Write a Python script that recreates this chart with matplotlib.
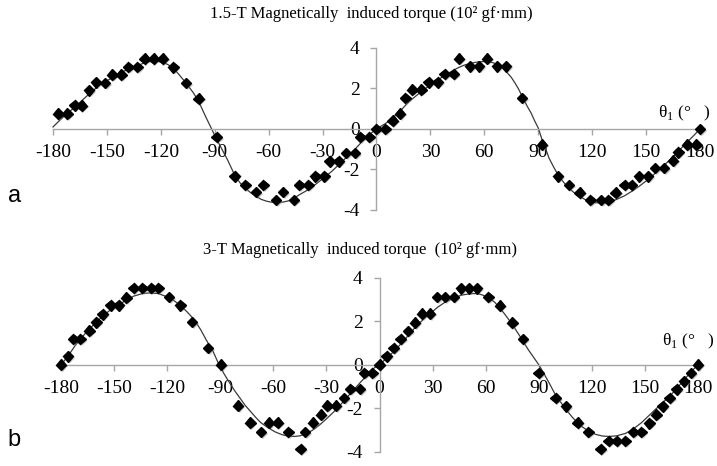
import matplotlib
matplotlib.use("Agg")
import matplotlib.pyplot as plt
import matplotlib.patheffects as pe
import numpy as np

# ---------------- data ----------------
# (a) 1.5-T measured points
a_x = [-177, -172, -168, -164, -160, -156, -151, -147, -142, -138, -133, -129, -124, -119,
       -113, -106, -99, -89, -79, -73, -67, -63, -56, -52, -46, -43, -38, -34, -29, -26,
       -21, -17, -12, -9, -4, 0, 5, 9, 13, 16, 20, 25, 29, 34, 38, 43, 46, 52, 57, 61.5,
       67, 72, 81, 92, 101, 107, 113, 119, 125, 129, 133, 138, 142, 146, 151, 155, 160,
       165, 168, 173, 178, 180]
a_y = [0.76, 0.76, 1.17, 1.15, 1.91, 2.30, 2.27, 2.68, 2.68, 3.06, 3.06, 3.47, 3.47, 3.47,
       3.05, 2.27, 1.50, -0.40, -2.34, -2.76, -3.12, -2.76, -3.50, -3.12, -3.50, -2.76, -2.76,
       -2.34, -2.34, -1.60, -1.60, -1.19, -1.19, -0.40, -0.40, 0.0, 0.0, 0.41, 0.76, 1.53,
       1.95, 1.95, 2.31, 2.31, 2.72, 2.72, 3.48, 3.10, 3.10, 3.48, 3.10, 3.10, 1.53, -0.77,
       -2.34, -2.76, -3.14, -3.51, -3.51, -3.51, -3.14, -2.76, -2.76, -2.34, -2.34, -1.93,
       -1.93, -1.57, -1.16, -0.77, -0.77, 0.0]
# (a) fitted curve
a_fit_x = [-180, -176, -172, -168, -164, -160, -155, -151, -146, -142, -137, -133, -129, -126,
           -123, -119, -116, -113, -110, -106, -102, -99, -95, -92, -89, -86, -83, -79, -76,
           -73, -70, -67, -64, -61, -58, -56, -52, -49, -46, -42, -38, -34, -29, -25, -21,
           -17, -12, -8, -4, 0, 5, 9, 13, 17, 20, 25, 29, 34, 38, 42, 46, 49, 52, 55, 57,
           60, 62, 65, 67, 70, 72, 75, 77, 79, 81, 84, 86, 88, 90, 92, 94, 96, 99, 101, 104,
           107, 110, 113, 116, 119, 122, 125, 129, 133, 138, 142, 146, 151, 156, 160, 165,
           169, 173, 177, 180]
a_fit_y = [0.10, 0.45, 0.78, 1.06, 1.40, 1.72, 2.10, 2.32, 2.60, 2.79, 3.00, 3.13, 3.27, 3.33,
           3.35, 3.30, 3.18, 3.00, 2.70, 2.27, 1.80, 1.37, 0.60, 0.05, -0.50, -1.00, -1.50,
           -2.26, -2.65, -2.92, -3.15, -3.33, -3.48, -3.57, -3.62, -3.63, -3.61, -3.55, -3.42,
           -3.20, -3.00, -2.74, -2.39, -2.10, -1.77, -1.42, -1.00, -0.62, -0.28, 0.0, 0.27,
           0.55, 0.87, 1.25, 1.49, 1.85, 2.11, 2.42, 2.64, 2.86, 3.05, 3.16, 3.23, 3.29, 3.32,
           3.33, 3.32, 3.27, 3.18, 3.02, 2.85, 2.55, 2.28, 1.98, 1.62, 1.10, 0.79, 0.40, 0.05,
           -0.50, -0.95, -1.44, -1.95, -2.26, -2.62, -2.92, -3.15, -3.33, -3.48, -3.58, -3.64,
           -3.66, -3.63, -3.50, -3.30, -3.08, -2.84, -2.50, -2.12, -1.80, -1.36, -1.00, -0.64,
           -0.28, 0.0]

# (b) 3-T measured points
b_x = [-180, -176, -173, -169, -164, -160, -156.5, -152, -147.5, -143, -139, -134, -129, -125,
       -119, -112.5, -106, -97, -89.5, -80, -73, -67, -62.5, -57.5, -51.5, -44.5, -42, -37.5,
       -33, -29.5, -24.5, -20, -16.5, -11, -8.5, -4, 0, 4, 8, 12, 16, 20, 24, 28.5, 32.5, 37,
       42, 46, 50.5, 55, 61.5, 68, 75, 81, 90, 99.5, 105.5, 112, 118, 125, 129.5, 134, 139,
       143.5, 148, 152.5, 156.5, 160, 164, 168, 172, 176, 180]
b_y = [0.0, 0.39, 1.18, 1.18, 1.56, 1.94, 2.32, 2.73, 2.73, 3.08, 3.53, 3.53, 3.53, 3.53,
       3.11, 2.73, 1.97, 0.77, 0.0, -1.89, -2.67, -3.09, -2.67, -2.67, -3.09, -3.88, -3.09,
       -2.67, -2.29, -1.89, -1.89, -1.54, -1.12, -1.12, -0.38, -0.38, 0.0, 0.39, 0.77, 1.18,
       1.55, 1.93, 2.34, 2.34, 3.11, 3.11, 3.11, 3.51, 3.51, 3.51, 3.11, 2.71, 1.93, 1.18,
       -0.38, -1.54, -1.92, -2.67, -3.09, -3.88, -3.50, -3.50, -3.50, -3.09, -3.09, -2.70,
       -2.29, -1.92, -1.54, -1.13, -0.76, -0.38, 0.0]
# (b) fitted curve
b_fit_x = [-180, -176, -172, -168, -164, -160, -156, -152, -147, -143, -139, -134, -130, -125,
           -121, -117, -113, -109, -105, -101, -98, -94, -91, -88, -85, -82, -79, -76, -73,
           -70, -67, -63, -59, -55, -52, -48, -45, -42, -38, -34, -30, -26, -22, -18, -14,
           -10, -6, -3, 0, 4, 8, 12, 16, 20, 25, 29, 33, 37, 42, 46, 50, 53, 56, 59, 62, 65,
           68, 71, 75, 78, 81, 84, 87, 90, 93, 96, 99, 102, 106, 109, 112, 115, 118, 122, 126,
           130, 134, 139, 143, 148, 152, 156, 160, 164, 168, 172, 176, 180]
b_fit_y = [0.0, 0.40, 0.88, 1.28, 1.64, 1.96, 2.27, 2.52, 2.77, 2.98, 3.15, 3.27, 3.30, 3.27,
           3.15, 3.00, 2.75, 2.45, 2.10, 1.60, 1.15, 0.60, 0.05, -0.40, -0.80, -1.18, -1.52,
           -1.86, -2.14, -2.42, -2.67, -2.90, -3.09, -3.22, -3.28, -3.30, -3.27, -3.19, -3.02,
           -2.78, -2.49, -2.18, -1.84, -1.47, -1.10, -0.74, -0.40, -0.15, 0.0, 0.30, 0.60,
           0.95, 1.32, 1.70, 2.10, 2.38, 2.65, 2.87, 3.06, 3.19, 3.25, 3.27, 3.26, 3.18, 3.06,
           2.88, 2.61, 2.30, 1.86, 1.48, 1.10, 0.70, 0.35, 0.0, -0.42, -0.86, -1.32, -1.68,
           -2.12, -2.42, -2.68, -2.88, -3.05, -3.20, -3.28, -3.30, -3.27, -3.16, -2.98, -2.67,
           -2.36, -2.05, -1.75, -1.45, -1.09, -0.71, -0.33, 0.0]

x_ticks = list(range(-180, 181, 30))
y_ticks = [-4, -2, 0, 2, 4]

# ---------------- figure ----------------
plt.rcParams['font.family'] = ['Liberation Serif', 'DejaVu Serif']
plt.rcParams['mathtext.fontset'] = 'custom'
plt.rcParams['mathtext.rm'] = 'Liberation Serif'

fig = plt.figure(figsize=(7.17, 4.66), dpi=100)
fig.patch.set_facecolor('white')

ax_a = fig.add_axes([0.0739, 0.5494, 0.9024, 0.3476])
ax_b = fig.add_axes([0.0851, 0.0307, 0.8884, 0.3734])

axis_col = '#a6a6a6'
shadow = [pe.SimplePatchShadow(offset=(1.2, -1.2), shadow_rgbFace='gray', alpha=0.45), pe.Normal()]

for ax, px, py, fx, fy in [(ax_a, a_x, a_y, a_fit_x, a_fit_y),
                           (ax_b, b_x, b_y, b_fit_x, b_fit_y)]:
    ax.plot(fx, fy, color='#3a3a3a', lw=0.9, zorder=2)
    ax.plot(px, py, ls='none', marker='D', ms=5.4, color='black', zorder=3,
            path_effects=shadow)
    ax.set_xlim(-180, 180)
    ax.set_ylim(-4, 4)
    ax.spines['left'].set_position(('data', 0))
    ax.spines['bottom'].set_position(('data', 0))
    ax.spines['top'].set_visible(False)
    ax.spines['right'].set_visible(False)
    for s in ['left', 'bottom']:
        ax.spines[s].set_color(axis_col)
        ax.spines[s].set_linewidth(1.0)
    ax.set_xticks(x_ticks)
    ax.set_xticklabels([str(t) for t in x_ticks])
    ax.set_yticks(y_ticks)
    ax.set_yticklabels([str(t) for t in y_ticks])
    ax.tick_params(axis='both', direction='out', length=4, width=1.0, color=axis_col,
                   labelsize=14, labelcolor='black')
    ax.tick_params(axis='x', pad=7)
    ax.tick_params(axis='y', pad=8)
    ax.patch.set_alpha(0)
    for c in ax.get_children():
        c.set_clip_on(False)

fig.text(0.5174, 0.970, '1.5-T Magnetically  induced torque (10² gf·mm)', ha='center', va='center',
         fontsize=12)
fig.text(0.502, 0.4635, '3-T Magnetically  induced torque  (10² gf·mm)', ha='center', va='center',
         fontsize=12)
fig.text(0.990, 0.7575, r'θ$_1$ (°   )', ha='right', va='center', fontsize=12.5)
fig.text(0.996, 0.2667, r'θ$_1$ (°   )', ha='right', va='center', fontsize=12.5)
fig.text(0.021, 0.579, 'a', ha='center', va='center', fontsize=17, family='Liberation Sans')
fig.text(0.019, 0.056, 'b', ha='center', va='center', fontsize=17, family='Liberation Sans')

fig.savefig('out.png', dpi=100, facecolor='white')
plt.close()
